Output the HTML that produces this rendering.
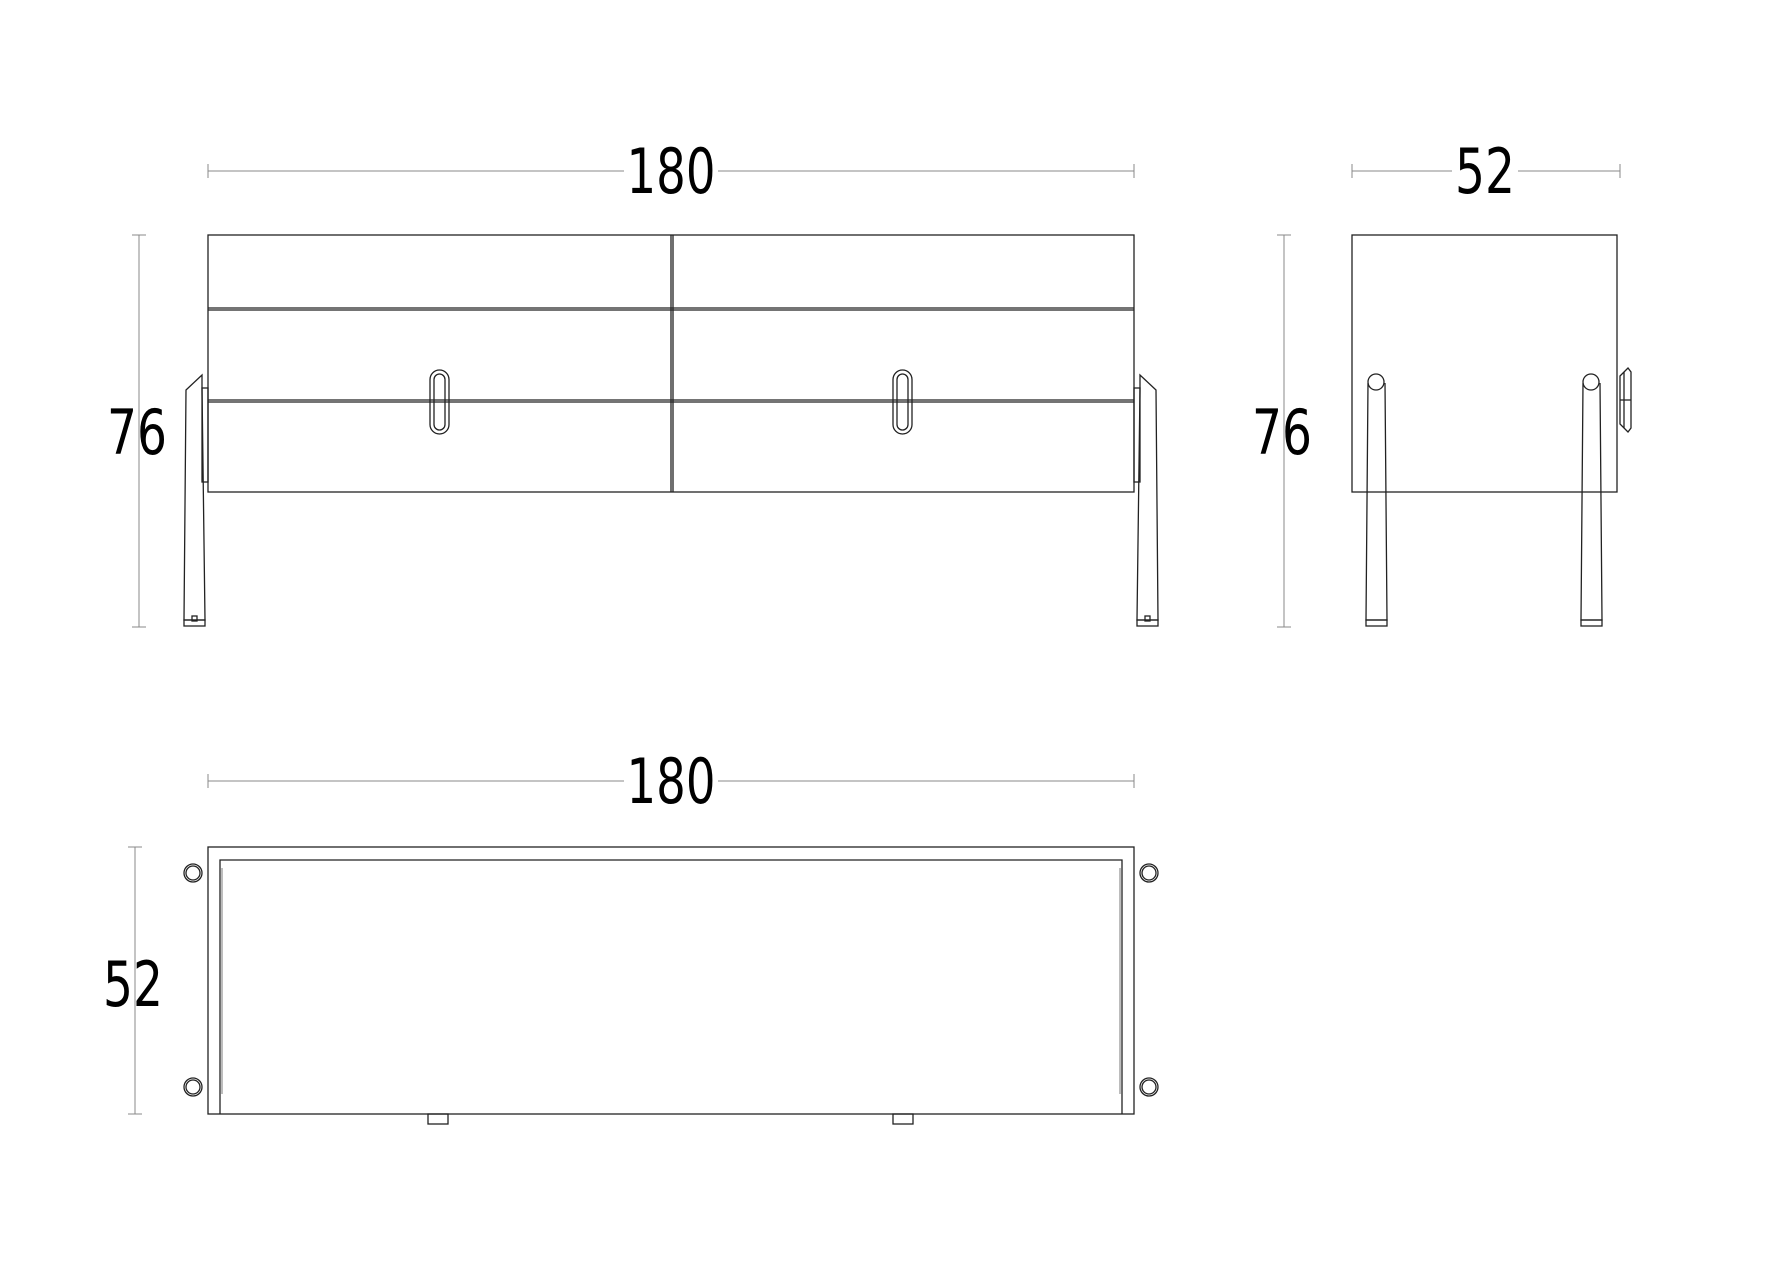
<!DOCTYPE html>
<html><head><meta charset="utf-8"><style>
html,body{margin:0;padding:0;background:#fff;}
svg{display:block;}
text{font-family:"DejaVu Sans","Liberation Sans",sans-serif;fill:#000;}
</style></head><body>
<svg width="1780" height="1274" viewBox="0 0 1780 1274" xmlns="http://www.w3.org/2000/svg">
<g fill="none" stroke="#888" stroke-width="1">
  <line x1="208" y1="171" x2="1134" y2="171"/><line x1="208" y1="164" x2="208" y2="178"/><line x1="1134" y1="164" x2="1134" y2="178"/>
  <line x1="1352" y1="171" x2="1620" y2="171"/><line x1="1352" y1="164" x2="1352" y2="178"/><line x1="1620" y1="164" x2="1620" y2="178"/>
  <line x1="139" y1="235" x2="139" y2="627"/><line x1="132" y1="235" x2="146" y2="235"/><line x1="132" y1="627" x2="146" y2="627"/>
  <line x1="1284" y1="235" x2="1284" y2="627"/><line x1="1277" y1="235" x2="1291" y2="235"/><line x1="1277" y1="627" x2="1291" y2="627"/>
  <line x1="208" y1="781" x2="1134" y2="781"/><line x1="208" y1="774" x2="208" y2="788"/><line x1="1134" y1="774" x2="1134" y2="788"/>
  <line x1="135" y1="847" x2="135" y2="1114"/><line x1="128" y1="847" x2="142" y2="847"/><line x1="128" y1="1114" x2="142" y2="1114"/>
</g>
<g fill="#fff" stroke="none">
  <rect x="624" y="145" width="94" height="52"/><rect x="1452" y="145" width="66" height="52"/>
  <rect x="624" y="755" width="94" height="52"/>
</g>
<g font-size="62" text-anchor="middle">
  <text x="671" y="193" textLength="89" lengthAdjust="spacingAndGlyphs">180</text>
  <text x="1485" y="193" textLength="60" lengthAdjust="spacingAndGlyphs">52</text>
  <text x="137" y="454" textLength="60" lengthAdjust="spacingAndGlyphs">76</text>
  <text x="1282" y="454" textLength="60" lengthAdjust="spacingAndGlyphs">76</text>
  <text x="671" y="803" textLength="89" lengthAdjust="spacingAndGlyphs">180</text>
  <text x="133" y="1006" textLength="60" lengthAdjust="spacingAndGlyphs">52</text>
</g>
<g fill="none" stroke="#222" stroke-width="1.3">
  <!-- front -->
  <rect x="208" y="235" width="926" height="257"/>
  <line x1="671" y1="235" x2="671" y2="492"/><line x1="673" y1="235" x2="673" y2="492"/>
  <line x1="208" y1="308" x2="1134" y2="308"/><line x1="208" y1="310" x2="1134" y2="310"/>
  <line x1="208" y1="400" x2="1134" y2="400"/><line x1="208" y1="402" x2="1134" y2="402"/>
  <rect x="430" y="370" width="19" height="64" rx="9.5"/><rect x="434" y="374" width="11" height="56" rx="5.5"/>
  <rect x="893" y="370" width="19" height="64" rx="9.5"/><rect x="897" y="374" width="11" height="56" rx="5.5"/>
  <polygon points="186,390 202,375 202,388 205,620 184,620"/>
  <rect x="202" y="388" width="6" height="94"/>
  <rect x="184" y="620" width="21" height="6"/><rect x="192" y="616" width="5" height="5"/>
  <polygon points="1156,390 1140,375 1140,388 1137,620 1158,620"/>
  <rect x="1134" y="388" width="6" height="94"/>
  <rect x="1137" y="620" width="21" height="6"/><rect x="1145" y="616" width="5" height="5"/>
  <!-- side -->
  <rect x="1352" y="235" width="265" height="257"/>
  <circle cx="1376" cy="382" r="8"/><polyline points="1368,383 1366,620 1387,620 1385,383"/>
  <rect x="1366" y="620" width="21" height="6"/>
  <circle cx="1591" cy="382" r="8"/><polyline points="1583,383 1581,620 1602,620 1600,383"/>
  <rect x="1581" y="620" width="21" height="6"/>
  <polygon points="1620,376 1628,368 1631,372 1631,428 1628,432 1620,424"/>
  <line x1="1620" y1="400" x2="1631" y2="400"/><line x1="1624" y1="372" x2="1624" y2="428"/>
  <!-- top view -->
  <rect x="208" y="847" width="926" height="267"/>
  <polyline points="220,1114 220,860 1122,860 1122,1114"/>
  <line x1="222" y1="868" x2="222" y2="1094" stroke="#999"/><line x1="1120" y1="868" x2="1120" y2="1094" stroke="#999"/>
  <circle cx="193" cy="873" r="9"/><circle cx="193" cy="873" r="7"/>
  <circle cx="193" cy="1087" r="9"/><circle cx="193" cy="1087" r="7"/>
  <circle cx="1149" cy="873" r="9"/><circle cx="1149" cy="873" r="7"/>
  <circle cx="1149" cy="1087" r="9"/><circle cx="1149" cy="1087" r="7"/>
  <rect x="428" y="1114" width="20" height="10"/><rect x="893" y="1114" width="20" height="10"/>
</g>
</svg>
</body></html>
